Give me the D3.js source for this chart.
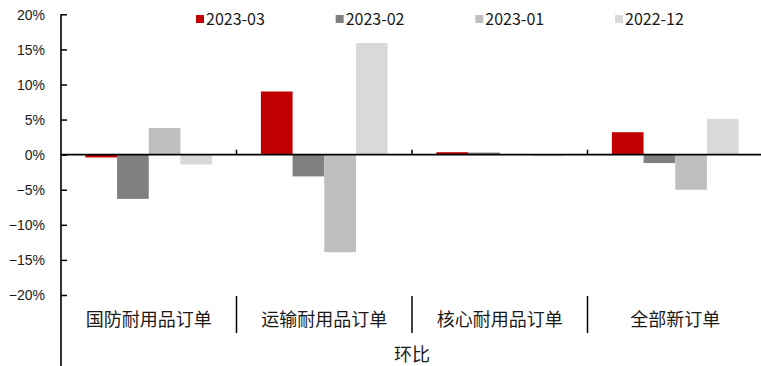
<!DOCTYPE html>
<html><head><meta charset="utf-8">
<script src="https://cdn.jsdelivr.net/npm/d3@7"></script>
<style>html,body{margin:0;padding:0;background:#fff;}svg{display:block;}</style>
</head><body><svg id="c" width="761" height="366"></svg>
<script>
const categories = ["国防耐用品订单", "运输耐用品订单", "核心耐用品订单", "全部新订单"];
const seriesNames = ["2023-03", "2023-02", "2023-01", "2022-12"];
const s202303 = [-0.4, 9.0, 0.35, 3.2];
const s202302 = [-6.3, -3.1, 0.3, -1.2];
const s202301 = [3.8, -13.9, 0.0, -5.0];
const s202212 = [-1.4, 15.9, -0.2, 5.1];
const colors = ["#c00000", "#808080", "#bfbfbf", "#d9d9d9"];
const yTicks = [-20, -15, -10, -5, 0, 5, 10, 15, 20];
const groupLabel = "环比";

(function () {
const seriesVals = [s202303, s202302, s202301, s202212];
const svg = d3.select("#c");
const pL = 61, pR = 763, pT = 14.3, pB = 295;
const y = d3.scaleLinear().domain([-20, 20]).range([pB, pT]);
const x0 = d3.scaleBand().domain(categories).range([pL, pR]).paddingInner(0).paddingOuter(0);
const x1 = d3.scaleBand().domain(seriesNames).range([0, x0.bandwidth()]).paddingInner(0).paddingOuter(0.77);
const numFont = "'Liberation Sans', Arial, sans-serif";
const cjkFont = "'Noto Sans CJK SC', sans-serif";

// bars
categories.forEach((c, ci) => {
  seriesNames.forEach((s, si) => {
    const v = seriesVals[si][ci];
    svg.append("rect")
      .attr("x", x0(c) + x1(s))
      .attr("width", x1.bandwidth())
      .attr("y", y(Math.max(0, v)))
      .attr("height", Math.abs(y(v) - y(0)))
      .attr("fill", colors[si]);
  });
});

// y axis
const yAxis = d3.axisRight(y).tickValues(yTicks).tickSize(6).tickFormat(d => (d < 0 ? "\u2212" + Math.abs(d) : d) + "%");
const ya = svg.append("g").attr("transform", `translate(${pL},0)`).call(yAxis);
ya.select(".domain").remove();
ya.selectAll(".tick line").attr("stroke", "#000").attr("stroke-width", 1.5);
ya.selectAll(".tick text").attr("x", -16).attr("text-anchor", "end").attr("dy", "0.35em")
  .attr("font-family", numFont).attr("font-size", 14).attr("fill", "#1a1a1a");
svg.append("line").attr("x1", pL).attr("x2", pL).attr("y1", pT).attr("y2", 366)
  .attr("stroke", "#000").attr("stroke-width", 1.6);

// zero line with category ticks
svg.append("line").attr("x1", pL).attr("x2", pR).attr("y1", y(0)).attr("y2", y(0))
  .attr("stroke", "#000").attr("stroke-width", 1.8);
categories.slice(1).forEach(c => {
  svg.append("line").attr("x1", x0(c)).attr("x2", x0(c)).attr("y1", y(0)).attr("y2", y(0) - 5)
    .attr("stroke", "#000").attr("stroke-width", 1.5);
  svg.append("line").attr("x1", x0(c)).attr("x2", x0(c)).attr("y1", 296).attr("y2", 333)
    .attr("stroke", "#000").attr("stroke-width", 1.5);
});

// category labels
categories.forEach(c => {
  svg.append("text").attr("x", x0(c) + x0.bandwidth() / 2).attr("y", 320).attr("dy", "0.35em")
    .attr("text-anchor", "middle").attr("font-family", cjkFont).attr("font-size", 18)
    .attr("fill", "#1a1a1a").text(c);
});
svg.append("text").attr("x", (pL + pR) / 2).attr("y", 355).attr("dy", "0.35em")
  .attr("text-anchor", "middle").attr("font-family", cjkFont).attr("font-size", 18)
  .attr("fill", "#1a1a1a").text(groupLabel);

// legend
const legX = d3.scalePoint().domain(seriesNames).range([196, 615]);
seriesNames.forEach((s, i) => {
  svg.append("rect").attr("x", legX(s)).attr("y", 15).attr("width", 8).attr("height", 8).attr("fill", colors[i]);
  svg.append("text").attr("x", legX(s) + 10).attr("y", 19).attr("dy", "0.35em")
    .attr("font-family", cjkFont).attr("font-size", 16).attr("fill", "#1a1a1a").text(s);
});
})();
</script></body></html>
